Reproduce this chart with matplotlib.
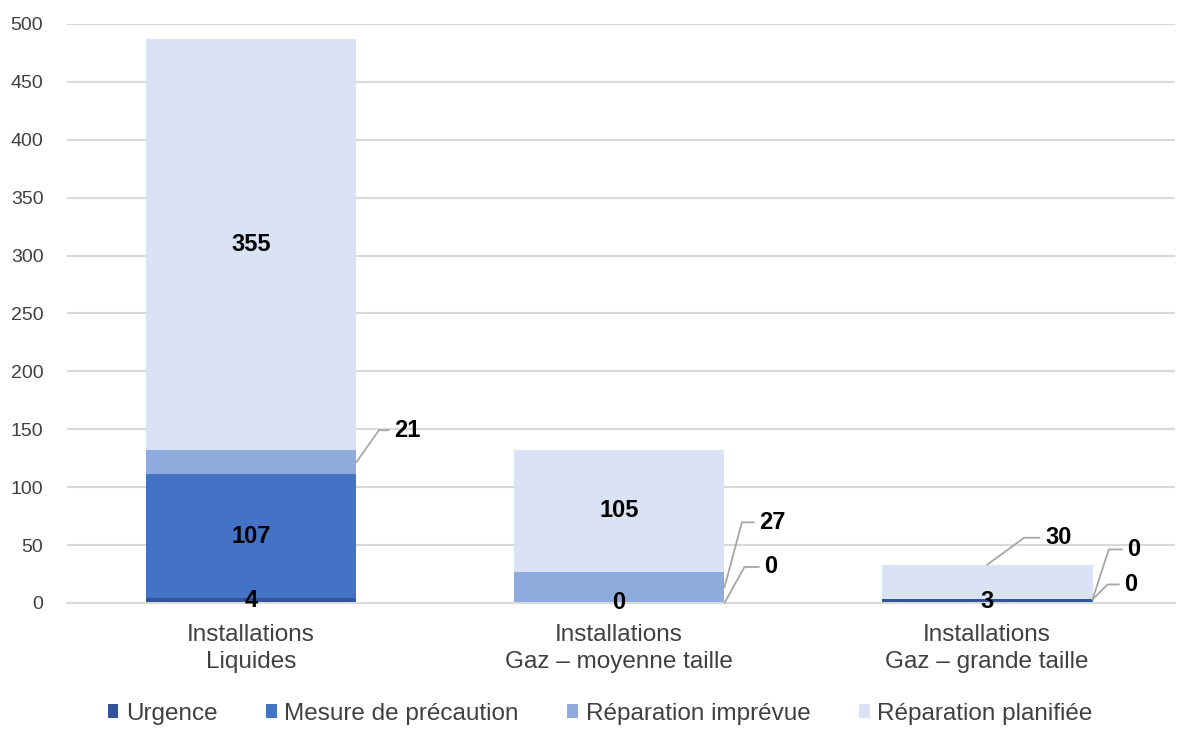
import numpy as np
import matplotlib.pyplot as plt

plt.rcParams['font.family'] = ['Liberation Sans', 'DejaVu Sans']

categories = ["Installations\nLiquides",
              "Installations\nGaz – moyenne taille",
              "Installations\nGaz – grande taille"]
series = ["Urgence", "Mesure de précaution", "Réparation imprévue", "Réparation planifiée"]
urgence = [4, 0, 3]
mesure = [107, 0, 0]
imprevue = [21, 27, 0]
planifiee = [355, 105, 30]
values = [urgence, mesure, imprevue, planifiee]

colors = ["#2F5597", "#4472C4", "#8FAADC", "#DAE3F3"]
grid_col = "#D9D9D9"
lead_col = "#A6A6A6"

# etiquettes avec ligne de rappel : (serie, categorie) -> (ancrage, dx px, dy px, angle)
leaders = {
    (2, 0): ("edge", 38, 32, 55),
    (2, 1): ("edge", 35, 65, 75),
    (1, 1): ("edge", 40, 36, 61),
    (3, 2): ("top", 58, 27, 36),
    (2, 2): ("edge", 35, 50, 72),
    (1, 2): ("edge", 32, 15, 45),
}

fig = plt.figure(figsize=(12, 7.38), dpi=100)
ax = fig.add_axes([0.0558, 0.183, 0.979 - 0.0558, 0.9675 - 0.183])

x = np.arange(len(categories))
w = 0.573
bottom = np.zeros(len(categories))
for i, (name, vals) in enumerate(zip(series, values)):
    vals = np.array(vals, dtype=float)
    ax.bar(x, vals, w, bottom=bottom, color=colors[i], label=name, zorder=2)
    for j in range(len(categories)):
        txt = str(int(vals[j]))
        if (i, j) in leaders:
            kind, dx, dy, ang = leaders[(i, j)]
            if kind == "edge":
                xy = (x[j] + w / 2, bottom[j] + vals[j] / 2)
            else:
                xy = (x[j], bottom[j] + vals[j])
            ax.annotate(txt, xy=xy, xytext=(dx, dy), textcoords='offset pixels',
                        ha='left', va='center', fontsize=17, fontweight='bold',
                        color='#000000', zorder=4,
                        arrowprops=dict(arrowstyle='-', color=lead_col, lw=1.3,
                                        shrinkA=2, shrinkB=0,
                                        connectionstyle=f"angle,angleA=0,angleB={ang},rad=0"))
        else:
            ax.text(x[j], bottom[j] + vals[j] / 2, txt, ha='center', va='center',
                    fontsize=17, fontweight='bold', color='#000000', zorder=4)
    bottom += vals

ax.set_xlim(-0.5, 2.51)
ax.set_ylim(0, 500)
ax.set_yticks(np.arange(0, 501, 50))
ax.set_xticks(x)
ax.set_xticklabels(categories, fontsize=17.5, color='#404040', linespacing=1.3)
ax.tick_params(axis='y', length=0, pad=17, labelsize=14, labelcolor='#404040')
ax.tick_params(axis='x', length=0, pad=15)
ax.grid(axis='y', color=grid_col, lw=1.5, zorder=0)
for s in ['top', 'right', 'left']:
    ax.spines[s].set_visible(False)
ax.spines['bottom'].set_color(grid_col)
ax.spines['bottom'].set_linewidth(1.5)

leg = fig.legend(loc='center', bbox_to_anchor=(0.5, 1 - 714 / 738), ncol=4, frameon=False,
                 fontsize=17.5, handlelength=0.45, handleheight=0.5, handletextpad=0.3,
                 columnspacing=2.0)
for t in leg.get_texts():
    t.set_color('#404040')

fig.savefig("out.png", dpi=100)
